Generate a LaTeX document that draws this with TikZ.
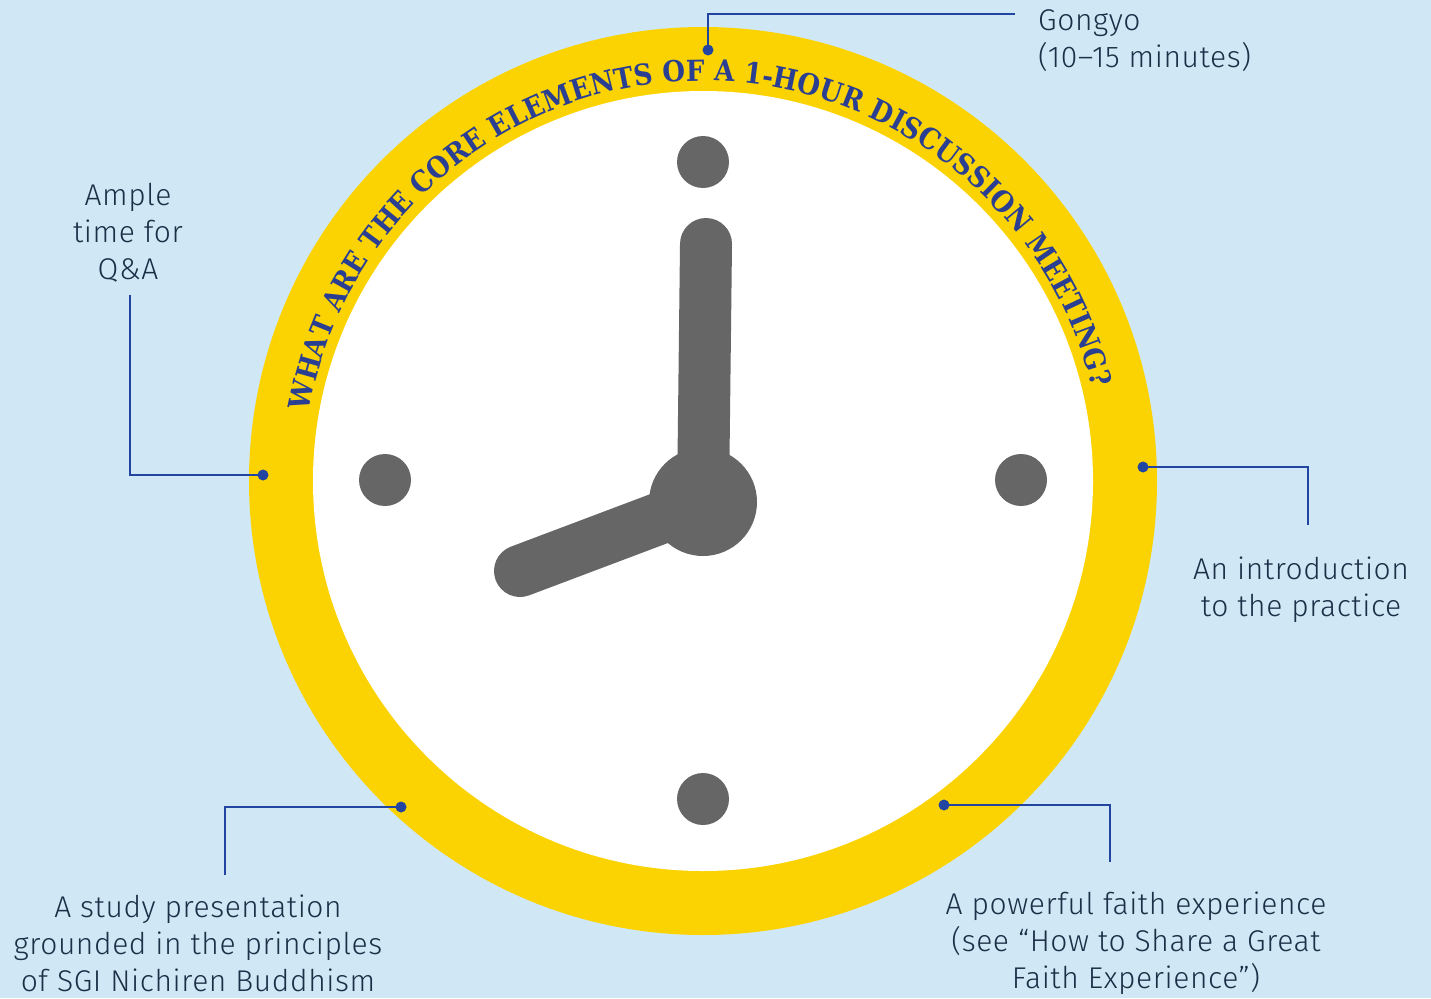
\documentclass[tikz,border=0pt]{standalone}
\usepackage{fontspec}
\setmainfont{Fira Sans}[UprightFont=* Light,LetterSpace=2]
\newfontfamily\titlefont{DejaVu Serif Condensed}
\usetikzlibrary{decorations.text}
\definecolor{skyblue}{HTML}{D0E8F5}
\definecolor{ringyellow}{HTML}{FCD302}
\definecolor{handgray}{HTML}{666666}
\definecolor{linkblue}{HTML}{2145A0}
\definecolor{textnavy}{HTML}{1B2F47}
\definecolor{titleblue}{HTML}{2B3F92}

\begin{document}
\begin{tikzpicture}[x=1pt,y=1pt,
  link/.style={draw=linkblue,line width=2.2pt},
  knob/.style={circle,fill=linkblue,inner sep=0pt,minimum size=11pt},
  tick/.style={circle,fill=handgray,inner sep=0pt,minimum size=52pt},
  hand/.style={draw=handgray,line width=52pt,line cap=round},
  notetext/.style={text=textnavy,font=\fontsize{30}{37}\selectfont,align=center,inner sep=0pt}]
\fill[skyblue] (0,0) rectangle (1431,-998); %background
\fill[ringyellow] (703,-481) circle[radius=454]; %clock face
\fill[white] (703,-481) circle[radius=390];
\path[decorate,decoration={text along path,text align=fit to path,
  text={|\titlefont\bfseries\fontsize{29}{29}\selectfont\color{titleblue}|WHAT ARE THE CORE ELEMENTS OF A 1-HOUR DISCUSSION MEETING?}}]
  (703,-481) ++(170:400) arc[start angle=170,end angle=14,radius=400]; %title
\node[tick] (twelve) at (703,-162) {}; %hour ticks
\node[tick] (three) at (1021,-480) {};
\node[tick] (six) at (703,-799) {};
\node[tick] (nine) at (385,-480) {};
\coordinate (hub) at (703,-502); %hands
\coordinate (mintip) at (706,-244);
\coordinate (hourtip) at (520,-571);
\draw[hand] (hub) -- (mintip);
\draw[hand] (hub) -- (hourtip);
\node[circle,fill=handgray,minimum size=108pt,inner sep=0pt] (axle) at (hub) {};
\node[knob] (gongyodot) at (708,-50) {}; %ring dots
\node[knob] (qadot) at (263,-475) {};
\node[knob] (introdot) at (1143,-467) {};
\node[knob] (studydot) at (401,-807) {};
\node[knob] (faithdot) at (944,-805) {};
\node[notetext,anchor=west,align=left] (gongyo) at (1038,-41) {Gongyo\\(10--15 minutes)}; %labels
\node[notetext] (qa) at (128,-233) {Ample\\time for\\Q\&A};
\node[notetext] (intro) at (1301,-590) {An introduction\\to the practice};
\node[notetext] (study) at (198,-943) {A study presentation\\grounded in the principles\\of SGI Nichiren Buddhism};
\node[notetext] (faith) at (1136,-943) {A powerful faith experience\\(see “How to Share a Great\\Faith Experience”)};
\coordinate (gongyoend) at (1015,-14); %line ends
\coordinate (qaend) at (130,-295);
\coordinate (introend) at (1308,-525);
\coordinate (studyend) at (225,-875);
\coordinate (faithend) at (1110,-862);
\draw[link] (gongyodot.center) |- (gongyoend);
\draw[link] (qadot.center) -| (qaend);
\draw[link] (introdot.center) -| (introend);
\draw[link] (studydot.center) -| (studyend);
\draw[link] (faithdot.center) -| (faithend);
\end{tikzpicture}
\end{document}
